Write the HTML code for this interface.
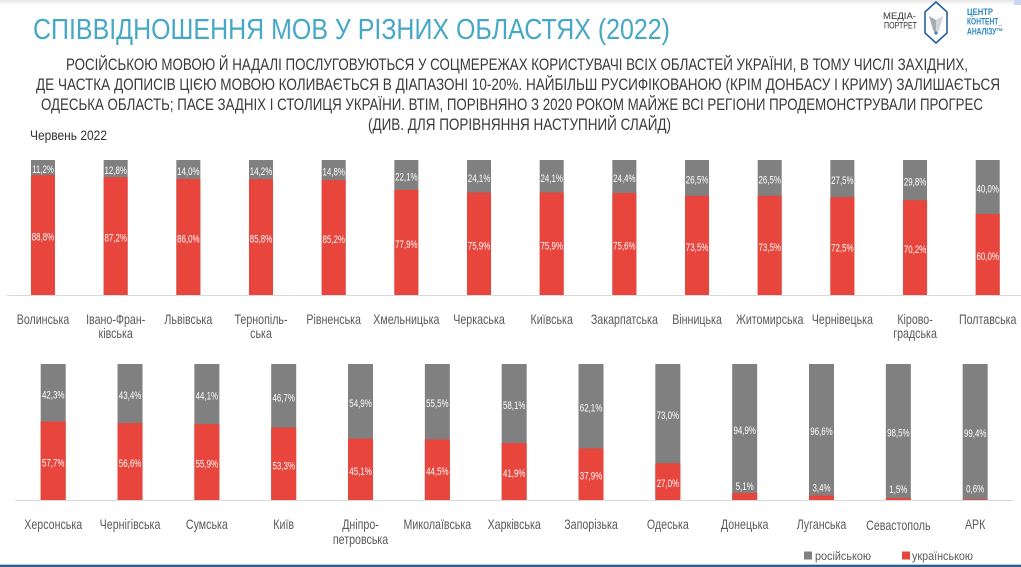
<!DOCTYPE html>
<html><head><meta charset="utf-8">
<style>
html,body{margin:0;padding:0;background:#fff;width:1021px;height:567px;overflow:hidden}
svg{display:block}
</style></head>
<body>
<svg width="1021" height="567" viewBox="0 0 1021 567" xmlns="http://www.w3.org/2000/svg" font-family="'Liberation Sans', sans-serif">
<defs>
<linearGradient id="tg" x1="0" y1="0" x2="0" y2="1">
<stop offset="0" stop-color="#e4e4e4"/><stop offset="1" stop-color="#ffffff"/>
</linearGradient>
</defs>
<rect x="0" y="0" width="1021" height="5" fill="url(#tg)"/>
<rect x="1014" y="0" width="7" height="5" fill="#c9d6f2"/>

<!-- Title -->
<text x="33" y="39" font-size="28.5" fill="#45a8c6" textLength="637" lengthAdjust="spacingAndGlyphs">СПІВВІДНОШЕННЯ МОВ У РІЗНИХ ОБЛАСТЯХ (2022)</text>

<!-- Logo -->
<g font-size="9" fill="#333">
<text x="883" y="19" textLength="33" lengthAdjust="spacingAndGlyphs">МЕДІА-</text>
<text x="884" y="28.5" textLength="33" lengthAdjust="spacingAndGlyphs">ПОРТРЕТ</text>
</g>
<polygon points="936,2 947,12 947,33 936,43 925,33 925,12" fill="#fff" stroke="#2c5f9e" stroke-width="1.6"/>
<polygon points="929,16 936,20 943,16 939,30 936,34 933,30" fill="#a9acb3"/>
<polygon points="936,20 943,16 939,30 936,34" fill="#d3d5da"/>
<circle cx="936" cy="33" r="1.6" fill="#2e86c1"/>
<g font-size="9" font-weight="bold" fill="#2e86c1">
<text x="967" y="15" textLength="26" lengthAdjust="spacingAndGlyphs">ЦЕНТР</text>
<text x="967" y="24.7" textLength="35" lengthAdjust="spacingAndGlyphs">КОНТЕНТ_</text>
<text x="967" y="34.3" textLength="36" lengthAdjust="spacingAndGlyphs">АНАЛІЗУ™</text>
</g>

<!-- Subtitle -->
<g font-size="16.5" fill="#3a3a3a">
<text x="66" y="70" textLength="902" lengthAdjust="spacingAndGlyphs">РОСІЙСЬКОЮ МОВОЮ Й НАДАЛІ ПОСЛУГОВУЮТЬСЯ У СОЦМЕРЕЖАХ КОРИСТУВАЧІ ВСІХ ОБЛАСТЕЙ УКРАЇНИ, В ТОМУ ЧИСЛІ ЗАХІДНИХ,</text>
<text x="36" y="90" textLength="964" lengthAdjust="spacingAndGlyphs">ДЕ ЧАСТКА ДОПИСІВ ЦІЄЮ МОВОЮ КОЛИВАЄТЬСЯ В ДІАПАЗОНІ 10-20%. НАЙБІЛЬШ РУСИФІКОВАНОЮ (КРІМ ДОНБАСУ І КРИМУ) ЗАЛИШАЄТЬСЯ</text>
<text x="41" y="110" textLength="942" lengthAdjust="spacingAndGlyphs">ОДЕСЬКА ОБЛАСТЬ; ПАСЕ ЗАДНІХ І СТОЛИЦЯ УКРАЇНИ. ВТІМ, ПОРІВНЯНО З 2020 РОКОМ МАЙЖЕ ВСІ РЕГІОНИ ПРОДЕМОНСТРУВАЛИ ПРОГРЕС</text>
<text x="368" y="130" textLength="303" lengthAdjust="spacingAndGlyphs">(ДИВ. ДЛЯ ПОРІВНЯННЯ НАСТУПНИЙ СЛАЙД)</text>
</g>
<text x="30" y="140" font-size="13.5" fill="#333" textLength="77" lengthAdjust="spacingAndGlyphs">Червень 2022</text>

<!-- Row 1 bars -->
<g fill="#808080">
<rect x="31" y="160" width="24" height="135"/>
<rect x="103.67" y="160" width="24" height="135"/>
<rect x="176.34" y="160" width="24" height="135"/>
<rect x="249.01" y="160" width="24" height="135"/>
<rect x="321.68" y="160" width="24" height="135"/>
<rect x="394.35" y="160" width="24" height="135"/>
<rect x="467.02" y="160" width="24" height="135"/>
<rect x="539.69" y="160" width="24" height="135"/>
<rect x="612.36" y="160" width="24" height="135"/>
<rect x="685.03" y="160" width="24" height="135"/>
<rect x="757.7" y="160" width="24" height="135"/>
<rect x="830.37" y="160" width="24" height="135"/>
<rect x="903.04" y="160" width="24" height="135"/>
<rect x="975.71" y="160" width="24" height="135"/>
</g>
<g fill="#e8453c">
<rect x="31" y="175.12" width="24" height="119.88"/>
<rect x="103.67" y="177.28" width="24" height="117.72"/>
<rect x="176.34" y="178.9" width="24" height="116.1"/>
<rect x="249.01" y="179.17" width="24" height="115.83"/>
<rect x="321.68" y="179.98" width="24" height="115.02"/>
<rect x="394.35" y="189.84" width="24" height="105.16"/>
<rect x="467.02" y="192.54" width="24" height="102.46"/>
<rect x="539.69" y="192.54" width="24" height="102.46"/>
<rect x="612.36" y="192.94" width="24" height="102.06"/>
<rect x="685.03" y="195.78" width="24" height="99.22"/>
<rect x="757.7" y="195.78" width="24" height="99.22"/>
<rect x="830.37" y="197.13" width="24" height="97.87"/>
<rect x="903.04" y="200.23" width="24" height="94.77"/>
<rect x="975.71" y="214" width="24" height="81"/>
</g>
<line x1="7" y1="295.5" x2="1021" y2="295.5" stroke="#d9d9d9" stroke-width="1"/>

<!-- Row 1 value labels -->
<g font-size="11" fill="#ffffff" text-anchor="middle">
<text transform="translate(43,173.06) scale(.72 1)">11,2%</text>
<text transform="translate(115.67,174.14) scale(.72 1)">12,8%</text>
<text transform="translate(188.34,174.95) scale(.72 1)">14,0%</text>
<text transform="translate(261.01,175.09) scale(.72 1)">14,2%</text>
<text transform="translate(333.68,175.49) scale(.72 1)">14,8%</text>
<text transform="translate(406.35,180.42) scale(.72 1)">22,1%</text>
<text transform="translate(479.02,181.77) scale(.72 1)">24,1%</text>
<text transform="translate(551.69,181.77) scale(.72 1)">24,1%</text>
<text transform="translate(624.36,181.97) scale(.72 1)">24,4%</text>
<text transform="translate(697.03,183.39) scale(.72 1)">26,5%</text>
<text transform="translate(769.7,183.39) scale(.72 1)">26,5%</text>
<text transform="translate(842.37,184.07) scale(.72 1)">27,5%</text>
<text transform="translate(915.04,185.62) scale(.72 1)">29,8%</text>
<text transform="translate(987.71,192.5) scale(.72 1)">40,0%</text>

<text transform="translate(43,240.56) scale(.72 1)">88,8%</text>
<text transform="translate(115.67,241.64) scale(.72 1)">87,2%</text>
<text transform="translate(188.34,242.45) scale(.72 1)">86,0%</text>
<text transform="translate(261.01,242.59) scale(.72 1)">85,8%</text>
<text transform="translate(333.68,242.99) scale(.72 1)">85,2%</text>
<text transform="translate(406.35,247.92) scale(.72 1)">77,9%</text>
<text transform="translate(479.02,249.27) scale(.72 1)">75,9%</text>
<text transform="translate(551.69,249.27) scale(.72 1)">75,9%</text>
<text transform="translate(624.36,249.47) scale(.72 1)">75,6%</text>
<text transform="translate(697.03,250.89) scale(.72 1)">73,5%</text>
<text transform="translate(769.7,250.89) scale(.72 1)">73,5%</text>
<text transform="translate(842.37,251.57) scale(.72 1)">72,5%</text>
<text transform="translate(915.04,253.12) scale(.72 1)">70,2%</text>
<text transform="translate(987.71,260) scale(.72 1)">60,0%</text>
</g>

<!-- Row 1 category labels -->
<g font-size="13.5" fill="#595959" text-anchor="middle">
<text transform="translate(43,324) scale(.79 1)">Волинська</text>
<text transform="translate(115.67,324) scale(.79 1)">Івано-Фран-</text>
<text transform="translate(115.67,338) scale(.79 1)">ківська</text>
<text transform="translate(188.34,324) scale(.79 1)">Львівська</text>
<text transform="translate(261.01,324) scale(.79 1)">Тернопіль-</text>
<text transform="translate(261.01,338) scale(.79 1)">ська</text>
<text transform="translate(333.68,324) scale(.79 1)">Рівненська</text>
<text transform="translate(406.35,324) scale(.79 1)">Хмельницька</text>
<text transform="translate(479.02,324) scale(.79 1)">Черкаська</text>
<text transform="translate(551.69,324) scale(.79 1)">Київська</text>
<text transform="translate(624.36,324) scale(.79 1)">Закарпатська</text>
<text transform="translate(697.03,324) scale(.79 1)">Вінницька</text>
<text transform="translate(769.7,324) scale(.79 1)">Житомирська</text>
<text transform="translate(842.37,324) scale(.79 1)">Чернівецька</text>
<text transform="translate(915.04,324) scale(.79 1)">Кірово-</text>
<text transform="translate(915.04,338) scale(.79 1)">градська</text>
<text transform="translate(987.71,324) scale(.79 1)">Полтавська</text>
</g>

<!-- Row 2 bars -->
<g fill="#808080">
<rect x="40.7" y="364" width="25" height="136"/>
<rect x="117.53" y="364" width="25" height="136"/>
<rect x="194.36" y="364" width="25" height="136"/>
<rect x="271.19" y="364" width="25" height="136"/>
<rect x="348.02" y="364" width="25" height="136"/>
<rect x="424.85" y="364" width="25" height="136"/>
<rect x="501.68" y="364" width="25" height="136"/>
<rect x="578.51" y="364" width="25" height="136"/>
<rect x="655.34" y="364" width="25" height="136"/>
<rect x="732.17" y="364" width="25" height="136"/>
<rect x="809" y="364" width="25" height="136"/>
<rect x="885.83" y="364" width="25" height="136"/>
<rect x="962.66" y="364" width="25" height="136"/>
</g>
<g fill="#e8453c">
<rect x="40.7" y="421.53" width="25" height="78.47"/>
<rect x="117.53" y="423.02" width="25" height="76.98"/>
<rect x="194.36" y="423.98" width="25" height="76.02"/>
<rect x="271.19" y="427.51" width="25" height="72.49"/>
<rect x="348.02" y="438.66" width="25" height="61.34"/>
<rect x="424.85" y="439.48" width="25" height="60.52"/>
<rect x="501.68" y="443.02" width="25" height="56.98"/>
<rect x="578.51" y="448.46" width="25" height="51.54"/>
<rect x="655.34" y="463.28" width="25" height="36.72"/>
<rect x="732.17" y="493.06" width="25" height="6.94"/>
<rect x="809" y="495.38" width="25" height="4.62"/>
<rect x="885.83" y="497.96" width="25" height="2.04"/>
<rect x="962.66" y="499.18" width="25" height="0.82"/>
</g>
<line x1="15" y1="500.5" x2="1013" y2="500.5" stroke="#d9d9d9" stroke-width="1"/>

<!-- Row 2 value labels -->
<g font-size="11" fill="#ffffff" text-anchor="middle">
<text transform="translate(53.2,398.27) scale(.72 1)">42,3%</text>
<text transform="translate(130.03,399.01) scale(.72 1)">43,4%</text>
<text transform="translate(206.86,399.49) scale(.72 1)">44,1%</text>
<text transform="translate(283.69,401.26) scale(.72 1)">46,7%</text>
<text transform="translate(360.52,406.83) scale(.72 1)">54,9%</text>
<text transform="translate(437.35,407.24) scale(.72 1)">55,5%</text>
<text transform="translate(514.18,409.01) scale(.72 1)">58,1%</text>
<text transform="translate(591.01,411.73) scale(.72 1)">62,1%</text>
<text transform="translate(667.84,419.14) scale(.72 1)">73,0%</text>
<text transform="translate(744.67,434.03) scale(.72 1)">94,9%</text>
<text transform="translate(821.5,435.19) scale(.72 1)">96,6%</text>
<text transform="translate(898.33,436.48) scale(.72 1)">98,5%</text>
<text transform="translate(975.16,437.09) scale(.72 1)">99,4%</text>

<text transform="translate(53.2,466.27) scale(.72 1)">57,7%</text>
<text transform="translate(130.03,467.01) scale(.72 1)">56,6%</text>
<text transform="translate(206.86,467.49) scale(.72 1)">55,9%</text>
<text transform="translate(283.69,469.26) scale(.72 1)">53,3%</text>
<text transform="translate(360.52,474.83) scale(.72 1)">45,1%</text>
<text transform="translate(437.35,475.24) scale(.72 1)">44,5%</text>
<text transform="translate(514.18,477.01) scale(.72 1)">41,9%</text>
<text transform="translate(591.01,479.73) scale(.72 1)">37,9%</text>
<text transform="translate(667.84,487.14) scale(.72 1)">27,0%</text>
<text transform="translate(744.67,490) scale(.72 1)">5,1%</text>
<text transform="translate(821.5,491.7) scale(.72 1)">3,4%</text>
<text transform="translate(898.33,493) scale(.72 1)">1,5%</text>
<text transform="translate(975.16,492.7) scale(.72 1)">0,6%</text>
</g>

<!-- Row 2 category labels -->
<g font-size="13.5" fill="#595959" text-anchor="middle">
<text transform="translate(53.2,529) scale(.79 1)">Херсонська</text>
<text transform="translate(130.03,529) scale(.79 1)">Чернігівська</text>
<text transform="translate(206.86,529) scale(.79 1)">Сумська</text>
<text transform="translate(283.69,529) scale(.79 1)">Київ</text>
<text transform="translate(360.52,529) scale(.79 1)">Дніпро-</text>
<text transform="translate(360.52,544) scale(.79 1)">петровська</text>
<text transform="translate(437.35,529) scale(.79 1)">Миколаївська</text>
<text transform="translate(514.18,529) scale(.79 1)">Харківська</text>
<text transform="translate(591.01,529) scale(.79 1)">Запорізька</text>
<text transform="translate(667.84,529) scale(.79 1)">Одеська</text>
<text transform="translate(744.67,529) scale(.79 1)">Донецька</text>
<text transform="translate(821.5,529) scale(.79 1)">Луганська</text>
<text transform="translate(898.33,530) scale(.79 1)">Севастополь</text>
<text transform="translate(975.16,529) scale(.79 1)">АРК</text>
</g>

<!-- Legend -->
<rect x="804" y="551.5" width="8" height="8" fill="#808080"/>
<text x="815" y="560" font-size="12" fill="#595959" textLength="56" lengthAdjust="spacingAndGlyphs">російською</text>
<rect x="902" y="551.5" width="8" height="8" fill="#e8453c"/>
<text x="912" y="560" font-size="12" fill="#595959" textLength="61" lengthAdjust="spacingAndGlyphs">українською</text>

<!-- Bottom rule -->
<rect x="0" y="564" width="1021" height="1" fill="#a9cbe6"/>
<rect x="0" y="565" width="1021" height="2" fill="#2f5f8a"/>
</svg>
</body></html>
